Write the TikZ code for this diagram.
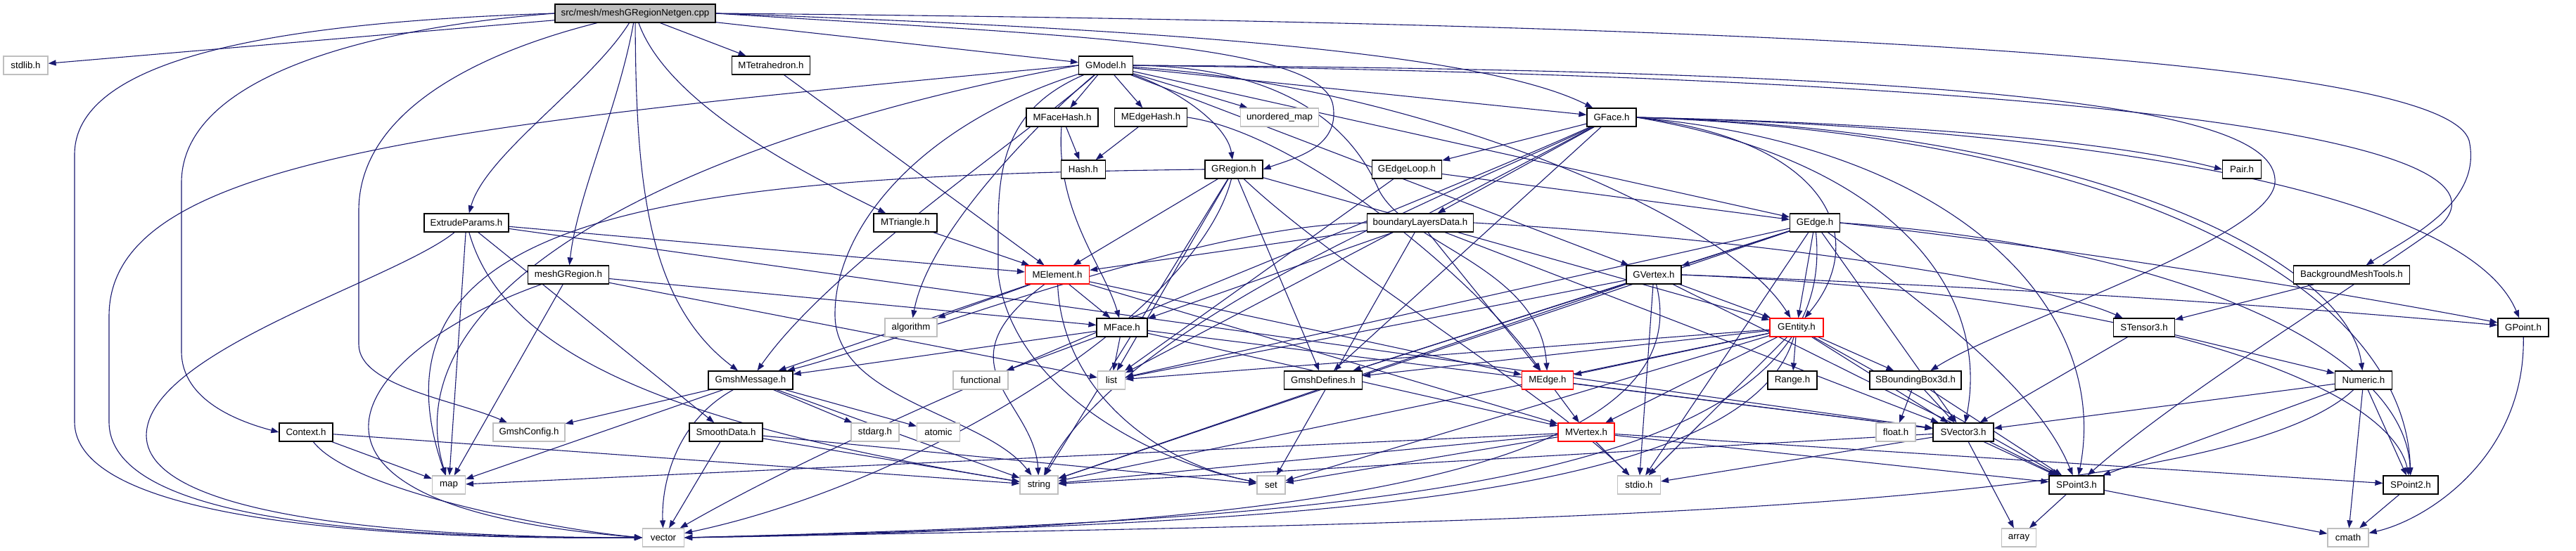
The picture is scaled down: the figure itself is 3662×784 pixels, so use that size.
\documentclass[tikz,border=0pt]{standalone}
\usepackage{fontspec}
\setmainfont{Liberation Sans}
\usetikzlibrary{arrows.meta}
\definecolor{edgeblue}{RGB}{25,25,112}
\definecolor{extgray}{RGB}{191,191,191}
\pgfdeclarelayer{bg}
\pgfsetlayers{bg,main}
\tikzset{
 nbox/.style={draw=black, line width=1.2pt, rectangle, inner sep=0pt, minimum height=26pt, font=\fontsize{13.3}{16}\selectfont, fill=white},
 ext/.style={nbox, draw=extgray},
 redb/.style={nbox, draw=red},
 rootb/.style={nbox, fill=extgray},
 e/.style={draw=edgeblue, line width=1.1pt, -{Triangle[length=11pt,width=8pt]}},
}
\begin{document}
\begin{tikzpicture}[x=1pt,y=-1pt]
\useasboundingbox (0,0) rectangle (3662,784);
\node[rootb, minimum width=228pt] (R) at (903,19) {src/mesh/meshGRegionNetgen.cpp};
\node[ext, minimum width=63pt] (stdlib) at (36.5,93) {stdlib.h};
\node[nbox, minimum width=111pt] (MTet) at (1096,93) {MTetrahedron.h};
\node[nbox, minimum width=77pt] (GM) at (1572,93) {GModel.h};
\node[nbox, minimum width=102pt] (MFH) at (1510,167) {MFaceHash.h};
\node[nbox, minimum width=103pt] (MEH) at (1636,167) {MEdgeHash.h};
\node[ext, minimum width=111pt] (umap) at (1819,167) {unordered\_map};
\node[nbox, minimum width=70pt] (GF) at (2291,167) {GFace.h};
\node[nbox, minimum width=63pt] (Hash) at (1540,241) {Hash.h};
\node[nbox, minimum width=82pt] (GR) at (1754,241) {GRegion.h};
\node[nbox, minimum width=99pt] (GEL) at (2000,241) {GEdgeLoop.h};
\node[nbox, minimum width=55pt] (Pair) at (3187,241) {Pair.h};
\node[nbox, minimum width=120pt] (EP) at (663,317) {ExtrudeParams.h};
\node[nbox, minimum width=90pt] (MTri) at (1287,317) {MTriangle.h};
\node[nbox, minimum width=151pt] (BLD) at (2019,317) {boundaryLayersData.h};
\node[nbox, minimum width=71pt] (GE) at (2580,317) {GEdge.h};
\node[nbox, minimum width=115pt] (MGR) at (808,391) {meshGRegion.h};
\node[redb, minimum width=91pt] (ME) at (1503,391) {MElement.h};
\node[nbox, minimum width=78pt] (GV) at (2351,391) {GVertex.h};
\node[nbox, minimum width=165pt] (BMT) at (3343,391) {BackgroundMeshTools.h};
\node[ext, minimum width=74pt] (alg) at (1295,466) {algorithm};
\node[nbox, minimum width=72pt] (MF) at (1595,466) {MFace.h};
\node[redb, minimum width=76pt] (GEn) at (2554,466) {GEntity.h};
\node[nbox, minimum width=87pt] (ST) at (3048,466) {STensor3.h};
\node[nbox, minimum width=72pt] (GP) at (3587,466) {GPoint.h};
\node[nbox, minimum width=120pt] (GMsg) at (1067,541) {GmshMessage.h};
\node[ext, minimum width=78pt] (func) at (1394,541) {functional};
\node[ext, minimum width=39pt] (list) at (1580,541) {list};
\node[nbox, minimum width=111pt] (GDef) at (1881,541) {GmshDefines.h};
\node[redb, minimum width=73pt] (MEd) at (2200,541) {MEdge.h};
\node[nbox, minimum width=70pt] (Range) at (2548,541) {Range.h};
\node[nbox, minimum width=130pt] (SBB) at (2723,541) {SBoundingBox3d.h};
\node[nbox, minimum width=81pt] (Num) at (3360,541) {Numeric.h};
\node[nbox, minimum width=76pt] (Ctx) at (435,615) {Context.h};
\node[ext, minimum width=102pt] (GCfg) at (752,615) {GmshConfig.h};
\node[nbox, minimum width=104pt] (SD) at (1032,615) {SmoothData.h};
\node[ext, minimum width=68pt] (stdarg) at (1244,615) {stdarg.h};
\node[ext, minimum width=61pt] (atomic) at (1334,615) {atomic};
\node[redb, minimum width=80pt] (MV) at (2255,615) {MVertex.h};
\node[ext, minimum width=56pt] (float) at (2695,615) {float.h};
\node[nbox, minimum width=86pt] (SV) at (2791,615) {SVector3.h};
\node[ext, minimum width=47pt] (map) at (638,690) {map};
\node[ext, minimum width=54pt] (string) at (1477,690) {string};
\node[ext, minimum width=40pt] (set) at (1807,690) {set};
\node[ext, minimum width=61pt] (stdio) at (2330,690) {stdio.h};
\node[nbox, minimum width=78pt] (SP3) at (2952,690) {SPoint3.h};
\node[nbox, minimum width=78pt] (SP2) at (3427,690) {SPoint2.h};
\node[ext, minimum width=59pt] (vector) at (943,765) {vector};
\node[ext, minimum width=49pt] (array) at (2870,765) {array};
\node[ext, minimum width=58pt] (cmath) at (3338,765) {cmath};
\begin{pgfonlayer}{bg}
% root
\draw[e] (R) -- (stdlib);
\draw[e] (R.west) .. controls (450,30) and (106,70) .. (106,220) -- (106,600) .. controls (106,750) and (600,768) .. (vector.west);
\draw[e] (R.west) .. controls (520,40) and (258,110) .. (258,260) -- (258,500) .. controls (258,570) and (340,600) .. (Ctx.west);
\draw[e] (R) .. controls (700,70) and (510,150) .. (510,300) -- (510,490) .. controls (510,550) and (650,570) .. (GCfg);
\draw[e] (R) .. controls (840,120) and (690,220) .. (EP);
\draw[e] (R) .. controls (880,150) and (820,280) .. (MGR);
\draw[e] (R) .. controls (904,260) and (920,430) .. (GMsg);
\draw[e] (R) .. controls (950,150) and (1150,250) .. (MTri);
\draw[e] (R) -- (MTet);
\draw[e] (R) -- (GM);
\draw[e] (R.east) .. controls (1600,40) and (2100,70) .. (GF);
\draw[e] (R.east) .. controls (1500,50) and (1880,60) .. (1895,150) .. controls (1905,210) and (1840,225) .. (GR.east);
\draw[e] (R.east) .. controls (2800,35) and (3480,100) .. (3510,200) .. controls (3530,290) and (3420,340) .. (BMT);
% GModel
\draw[e] (GM) -- (MFH);
\draw[e] (GM) -- (MEH);
\draw[e] (GM) -- (umap);
\draw[e] (GM) -- (GF);
\draw[e] (GM) .. controls (1680,130) and (1745,180) .. (GR);
\draw[e] (GM) -- (GE);
\draw[e] (GM) -- (GV);
\draw[e] (GM) .. controls (2000,120) and (2450,300) .. (GEn);
\draw[e] (GM.east) .. controls (2900,110) and (3600,190) .. (3470,320) .. controls (3330,420) and (3100,560) .. (SP3);
\draw[e] (GM.east) .. controls (2900,100) and (3240,160) .. (3234,260) .. controls (3228,340) and (2850,460) .. (SBB);
\draw[e] (GM) .. controls (1480,170) and (1320,330) .. (alg);
\draw[e] (GM.west) .. controls (1000,190) and (550,400) .. (map);
\draw[e] (GM) .. controls (1440,150) and (1419,220) .. (1419,320) -- (1419,390) .. controls (1440,560) and (1650,660) .. (set);
\draw[e] (GM) .. controls (1300,180) and (1185,330) .. (1187,450) .. controls (1190,570) and (1400,590) .. (string);
\draw[e] (GM.west) .. controls (600,180) and (155,230) .. (155,450) -- (155,600) .. controls (155,745) and (550,765) .. (vector.west);
\draw[e] (GM) .. controls (1450,200) and (1180,380) .. (GMsg);
\draw[e] (GM.east) .. controls (1850,95) and (1930,200) .. (1960,270) .. controls (2000,350) and (2190,380) .. (MEd);
% small
\draw[e] (MTet) -- (ME);
\draw[e] (MTri) -- (ME);
\draw[e] (MFH) -- (Hash);
\draw[e] (MFH) .. controls (1500,300) and (1570,380) .. (MF);
\draw[e] (MEH) -- (Hash);
\draw[e] (MEH.east) .. controls (1850,190) and (2100,400) .. (MEd);
% GFace
\draw[e] (GF.east) .. controls (2700,175) and (3000,200) .. (Pair.west);
\draw[e] (GF) -- (GEL);
\draw[e] (GF) -- (BLD);
\draw[e] (GF.east) .. controls (2600,200) and (2660,340) .. (GEn);
\draw[e] (GF.east) .. controls (2900,180) and (3500,260) .. (GP);
\draw[e] (GF.east) .. controls (3000,190) and (3420,400) .. (SP2);
\draw[e] (GF.east) .. controls (2700,230) and (2830,420) .. (SV);
\draw[e] (GF) -- (list);
\draw[e] (GF) .. controls (2100,260) and (1600,450) .. (string);
\draw[e] (GF) .. controls (1950,320) and (1300,560) .. (vector);
\draw[e] (GF) -- (GDef);
\draw[e] (GF.east) .. controls (2800,210) and (3000,450) .. (SP3);
\draw[e] (GF.east) .. controls (3000,185) and (3340,380) .. (Num);
% GRegion
\draw[e] (GR) -- (GEn);
\draw[e] (GR) -- (list);
\draw[e] (GR) -- (string);
\draw[e] (GR) .. controls (1700,450) and (1300,690) .. (vector);
\draw[e] (GR) .. controls (1900,380) and (2200,560) .. (stdio);
\draw[e] (GR) -- (GDef);
\draw[e] (GR) -- (ME);
\draw[e] (GR.west) .. controls (1000,250) and (500,290) .. (map);
% GEdgeLoop
\draw[e] (GEL) -- (GE);
\draw[e] (GEL) -- (list);
% boundaryLayersData
\draw[e] (BLD) -- (ME);
\draw[e] (BLD) -- (MEd);
\draw[e] (BLD) -- (SV);
\draw[e] (BLD.east) .. controls (2500,340) and (2900,400) .. (ST);
\draw[e] (BLD) -- (set);
\draw[e] (BLD.west) .. controls (1700,320) and (1300,480) .. (GMsg);
\draw[e] (BLD) -- (MF);
% GEdge
\draw[e] (GE) -- (GV);
\draw[e] (GE) -- (GEn);
\draw[e] (GE) -- (GDef);
\draw[e] (GE) -- (SV);
\draw[e] (GE) .. controls (2760,450) and (2900,560) .. (SP3);
\draw[e] (GE.east) .. controls (3100,350) and (3420,500) .. (SP2);
\draw[e] (GE) -- (list);
\draw[e] (GE) -- (string);
\draw[e] (GE) .. controls (2620,700) and (1900,740) .. (vector.east);
\draw[e] (GE) -- (stdio);
\draw[e] (GE.east) .. controls (3000,360) and (3400,430) .. (GP);
% GVertex
\draw[e] (GV) -- (GEn);
\draw[e] (GV.east) .. controls (2900,410) and (3300,440) .. (GP);
\draw[e] (GV.east) .. controls (3100,420) and (3400,560) .. (SP2);
\draw[e] (GV) -- (SP3);
\draw[e] (GV) -- (list);
\draw[e] (GV) -- (string);
\draw[e] (GV) .. controls (2430,700) and (1700,755) .. (vector.east);
\draw[e] (GV) -- (stdio);
\draw[e] (GV) -- (GDef);
% GEntity
\draw[e] (GEn) -- (Range);
\draw[e] (GEn) -- (SBB);
\draw[e] (GEn) -- (MV);
\draw[e] (GEn) -- (MEd);
\draw[e] (GEn) -- (SP3);
\draw[e] (GEn) -- (SV);
\draw[e] (GEn) -- (list);
\draw[e] (GEn) -- (string);
\draw[e] (GEn) .. controls (2480,720) and (1800,745) .. (vector.east);
\draw[e] (GEn) -- (set);
\draw[e] (GEn) -- (stdio);
\draw[e] (GEn) -- (GDef);
% MElement
\draw[e] (ME) -- (alg);
\draw[e] (ME) -- (MF);
\draw[e] (ME) -- (GMsg);
\draw[e] (ME) .. controls (1330,520) and (1470,570) .. (string);
\draw[e] (ME) -- (MV);
\draw[e] (ME) -- (MEd);
\draw[e] (ME) .. controls (1510,560) and (1650,660) .. (set);
% MFace
\draw[e] (MF) -- (func);
\draw[e] (MF) -- (GMsg);
\draw[e] (MF) -- (MV);
\draw[e] (MF) -- (SV);
\draw[e] (MF) -- (list);
% MEdge
\draw[e] (MEd) -- (MV);
\draw[e] (MEd) -- (SV);
% MVertex
\draw[e] (MV) -- (stdio);
\draw[e] (MV) -- (set);
\draw[e] (MV) -- (map);
\draw[e] (MV) -- (string);
\draw[e] (MV) -- (SP2);
\draw[e] (MV) -- (SP3);
% GmshMessage
\draw[e] (GMsg) -- (map);
\draw[e] (GMsg) .. controls (960,600) and (940,690) .. (vector);
\draw[e] (GMsg) -- (string);
\draw[e] (GMsg) -- (stdarg);
\draw[e] (GMsg) -- (atomic);
\draw[e] (GMsg) -- (GCfg);
% SmoothData
\draw[e] (SD) -- (vector);
\draw[e] (SD) -- (set);
\draw[e] (SD) -- (string);
% Context
\draw[e] (Ctx) .. controls (500,700) and (800,755) .. (vector.west);
\draw[e] (Ctx) -- (map);
\draw[e] (Ctx) -- (string);
% meshGRegion
\draw[e] (MGR) .. controls (500,500) and (340,720) .. (vector.west);
\draw[e] (MGR) -- (map);
\draw[e] (MGR) -- (MF);
\draw[e] (MGR) -- (list);
% ExtrudeParams
\draw[e] (EP) -- (ME);
\draw[e] (EP) -- (SD);
\draw[e] (EP) .. controls (560,400) and (208,500) .. (208,620) .. controls (210,740) and (600,765) .. (vector.west);
\draw[e] (EP) -- (map);
\draw[e] (EP) .. controls (720,520) and (1000,610) .. (string);
\draw[e] (EP) -- (SV);
% SBoundingBox3d
\draw[e] (SBB) -- (float);
\draw[e] (SBB) -- (SP3);
\draw[e] (SBB) -- (SV);
% SVector3
\draw[e] (SV) -- (SP3);
\draw[e] (SV) -- (array);
\draw[e] (SV) -- (string);
\draw[e] (SV) -- (stdio);
% SPoint3, SPoint2
\draw[e] (SP3) -- (cmath);
\draw[e] (SP3) -- (array);
\draw[e] (SP2) -- (cmath);
% STensor3
\draw[e] (ST) -- (SV);
\draw[e] (ST) -- (Num);
% Numeric
\draw[e] (Num) -- (cmath);
\draw[e] (Num) .. controls (3150,740) and (2000,745) .. (vector.east);
\draw[e] (Num) -- (SP2);
\draw[e] (Num) -- (SP3);
\draw[e] (Num) -- (SV);
% GPoint
\draw[e] (GP) .. controls (3590,650) and (3450,740) .. (cmath);
% BackgroundMeshTools
\draw[e] (BMT) -- (ST);
\end{pgfonlayer}
\end{tikzpicture}
\end{document}
